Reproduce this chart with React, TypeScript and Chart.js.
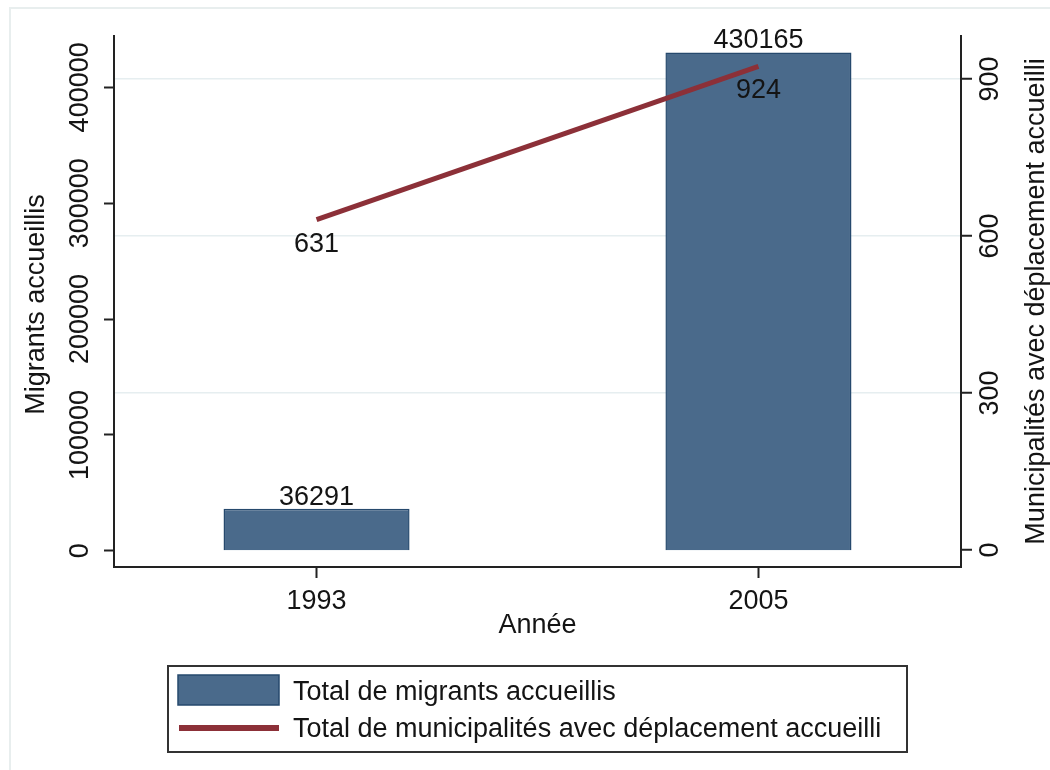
import React, { useEffect, useRef } from "react";
import { Chart, registerables } from "chart.js";

Chart.register(...registerables);

// ---- data ----
const YEARS = [1993, 2005];
const MIGRANTS = [36291, 430165];
const MUNICIPALITIES = [631, 924];
const LEFT_TICKS = [0, 100000, 200000, 300000, 400000];
const RIGHT_TICKS = [0, 300, 600, 900];

const X_TITLE = "Année";
const LEFT_TITLE = "Migrants accueillis";
const RIGHT_TITLE = "Municipalités avec déplacement accueilli";
const BAR_LABEL = "Total de migrants accueillis";
const LINE_LABEL = "Total de municipalités avec déplacement accueilli";

// ---- style ----
const FONT = '27px "Liberation Sans", Arial, sans-serif';
const TEXT = "#141414";
const BAR_FILL = "#4a6a8b";
const BAR_EDGE = "#26496d";
const LINE_COLOR = "#8c3038";
const AXIS = "#222222";
const GRID = "#e6eef0";
const FRAME = "#e8eeee";

function rotText(ctx: CanvasRenderingContext2D, text: string, x: number, y: number) {
  ctx.save();
  ctx.translate(x, y);
  ctx.rotate(-Math.PI / 2);
  ctx.textAlign = "center";
  ctx.textBaseline = "alphabetic";
  ctx.fillText(text, 0, 0);
  ctx.restore();
}

const stataPlugin = {
  id: "stataLook",
  beforeDraw(chart: any) {
    const ctx = chart.ctx as CanvasRenderingContext2D;
    ctx.save();
    ctx.strokeStyle = FRAME;
    ctx.lineWidth = 2;
    ctx.beginPath();
    ctx.moveTo(10, chart.height);
    ctx.lineTo(10, 8);
    ctx.lineTo(chart.width, 8);
    ctx.stroke();
    ctx.restore();
  },
  afterDatasetsDraw(chart: any) {
    const ctx = chart.ctx as CanvasRenderingContext2D;
    ctx.save();
    ctx.font = FONT;
    ctx.fillStyle = TEXT;
    ctx.textAlign = "center";
    ctx.textBaseline = "alphabetic";
    const barMeta = chart.getDatasetMeta(0);
    barMeta.data.forEach((el: any, i: number) => {
      ctx.fillText(String(MIGRANTS[i]), el.x, el.y - 4);
    });
    const lineMeta = chart.getDatasetMeta(1);
    lineMeta.data.forEach((el: any, i: number) => {
      ctx.fillText(String(MUNICIPALITIES[i]), el.x, el.y + 32);
    });
    ctx.restore();
  },
  afterDraw(chart: any) {
    const ctx = chart.ctx as CanvasRenderingContext2D;
    const { x, yL, yR } = chart.scales;
    const area = chart.chartArea;
    ctx.save();
    ctx.font = FONT;
    ctx.fillStyle = TEXT;

    // y tick labels (rotated)
    LEFT_TICKS.forEach((v) => rotText(ctx, String(v), yL.right - 26, yL.getPixelForValue(v)));
    RIGHT_TICKS.forEach((v) => rotText(ctx, String(v), yR.left + 37, yR.getPixelForValue(v)));

    // x tick labels
    ctx.textAlign = "center";
    ctx.textBaseline = "alphabetic";
    YEARS.forEach((v) => ctx.fillText(String(v), x.getPixelForValue(v), x.top + 42));

    // titles
    const cx = (area.left + area.right) / 2;
    const cy = (area.top + area.bottom) / 2;
    ctx.fillText(X_TITLE, cx, x.top + 66);
    rotText(ctx, LEFT_TITLE, yL.left + 44, cy + 3);
    rotText(ctx, RIGHT_TITLE, yR.right - 6, cy);

    // legend box
    const bw = 739;
    const bh = 86;
    const bx = cx - bw / 2;
    const by = x.top + 99;
    ctx.strokeStyle = "#333333";
    ctx.lineWidth = 2;
    ctx.strokeRect(bx, by, bw, bh);

    const barDs = chart.data.datasets[0];
    const lineDs = chart.data.datasets[1];
    ctx.fillStyle = barDs.backgroundColor;
    ctx.fillRect(bx + 10, by + 9, 101, 30);
    ctx.strokeStyle = barDs.borderColor;
    ctx.lineWidth = 1.5;
    ctx.strokeRect(bx + 10, by + 9, 101, 30);

    ctx.strokeStyle = lineDs.borderColor;
    ctx.lineWidth = 6;
    ctx.beginPath();
    ctx.moveTo(bx + 11, by + 62);
    ctx.lineTo(bx + 111, by + 62);
    ctx.stroke();

    ctx.fillStyle = TEXT;
    ctx.textAlign = "left";
    ctx.fillText(barDs.label, bx + 125, by + 34);
    ctx.fillText(lineDs.label, bx + 125, by + 71);
    ctx.restore();
  },
};

export default function App() {
  const canvasRef = useRef<HTMLCanvasElement | null>(null);

  useEffect(() => {
    if (!canvasRef.current) return;
    const chart = new Chart(canvasRef.current, {
      type: "bar",
      data: {
        datasets: [
          {
            type: "bar",
            label: BAR_LABEL,
            data: YEARS.map((yr, i) => ({ x: yr, y: MIGRANTS[i] })),
            xAxisID: "x",
            yAxisID: "yL",
            backgroundColor: BAR_FILL,
            borderColor: BAR_EDGE,
            borderWidth: 1.5,
            barPercentage: 0.421,
            categoryPercentage: 1,
            order: 1,
          } as any,
          {
            type: "line",
            label: LINE_LABEL,
            data: YEARS.map((yr, i) => ({ x: yr, y: MUNICIPALITIES[i] })),
            xAxisID: "x",
            yAxisID: "yR",
            borderColor: LINE_COLOR,
            backgroundColor: LINE_COLOR,
            borderWidth: 5,
            pointRadius: 0,
            tension: 0,
            order: 0,
          } as any,
        ],
      },
      options: {
        animation: false,
        responsive: false,
        devicePixelRatio: 1,
        layout: { padding: { top: 36, left: 0, right: 0, bottom: 0 } },
        plugins: {
          legend: { display: false },
          tooltip: { enabled: false },
        },
        scales: {
          x: {
            type: "linear",
            position: "bottom",
            min: 1987.5,
            max: 2010.5,
            offset: false,
            afterBuildTicks: (s: any) => {
              s.ticks = YEARS.map((v) => ({ value: v }));
            },
            afterFit: (s: any) => {
              s.height = 203;
            },
            ticks: { display: false },
            grid: {
              offset: false,
              drawOnChartArea: false,
              tickLength: 11,
              tickColor: AXIS,
              tickWidth: 2,
            },
            border: { display: true, color: AXIS, width: 2 },
          },
          yL: {
            type: "linear",
            position: "left",
            min: -14000,
            max: 444300,
            afterBuildTicks: (s: any) => {
              s.ticks = LEFT_TICKS.map((v) => ({ value: v }));
            },
            afterFit: (s: any) => {
              s.width = 114;
            },
            ticks: { display: false },
            grid: {
              drawOnChartArea: false,
              tickLength: 10,
              tickColor: AXIS,
              tickWidth: 2,
            },
            border: { display: true, color: AXIS, width: 2 },
          },
          yR: {
            type: "linear",
            position: "right",
            min: -32.5,
            max: 982,
            afterBuildTicks: (s: any) => {
              s.ticks = RIGHT_TICKS.map((v) => ({ value: v }));
            },
            afterFit: (s: any) => {
              s.width = 89;
            },
            ticks: { display: false },
            grid: {
              drawOnChartArea: true,
              color: (c: any) => (c.tick && c.tick.value === 0 ? "rgba(0,0,0,0)" : GRID),
              lineWidth: 1.5,
              tickLength: 11,
              tickColor: AXIS,
              tickWidth: 2,
            },
            border: { display: true, color: AXIS, width: 2 },
          },
        },
      } as any,
      plugins: [stataPlugin],
    });
    return () => chart.destroy();
  }, []);

  return (
    <canvas
      ref={canvasRef}
      width={1050}
      height={770}
      style={{ position: "absolute", left: 0, top: 0, width: 1050, height: 770, background: "#ffffff" }}
    />
  );
}
